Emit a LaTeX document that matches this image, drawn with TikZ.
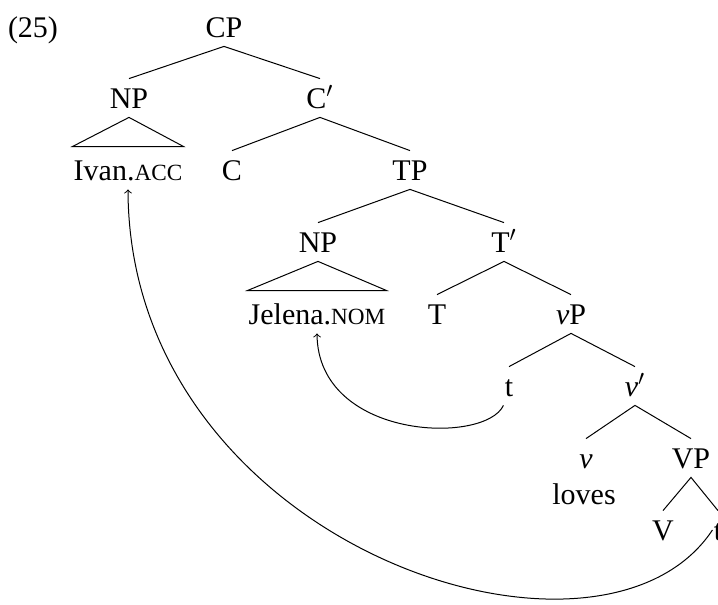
\documentclass[tikz,border=0pt]{standalone}
\usepackage{fontspec}
\setmainfont{Liberation Serif}
\newcommand\mysc[1]{{\fontsize{11.6}{12}\selectfont #1}}
\begin{document}
\begin{tikzpicture}[x=0.5pt,y=-0.5pt,
  lab/.style={font=\fontsize{15}{18}\selectfont, text height=10pt, text depth=0pt, inner ysep=4.5pt, inner xsep=0.5pt},
  br/.style={line width=0.5pt},
  mv/.style={line width=0.5pt,->}]
\useasboundingbox (0,0) rectangle (718,605);
\node[lab] (ex) at (33,27) {(25)};
\node[lab] (CP) at (224,27) {CP};
\node[lab] (NP1) at (129,98) {NP};
\node[lab] (Cb) at (320,98) {C$'$};
\node[lab] (Ivan) at (128,170) {Ivan.\mysc{ACC}};
\node[lab] (C) at (232,170) {C};
\node[lab] (TP) at (410,170) {TP};
\node[lab] (NP2) at (318,242) {NP};
\node[lab] (Tb) at (504,242) {T$'$};
\node[lab] (Jel) at (317,314) {Jelena.\mysc{NOM}};
\node[lab] (T) at (437,314) {T};
\node[lab] (vP) at (571,314) {\textit{v}P};
\node[lab] (t1) at (509,386) {t};
\node[lab] (vb) at (635,386) {\textit{v}$'$};
\node[lab] (v) at (586,458) {\textit{v}};
\node[lab] (loves) at (584,494) {loves};
\node[lab] (VP) at (691,458) {VP};
\node[lab] (V) at (663,530) {V};
\node[lab] (t2) at (718,530) {t};

\draw[br] (NP1.north) -- (CP.south) -- (Cb.north);
\draw[br] (C.north) -- (Cb.south) -- (TP.north);
\draw[br] (NP2.north) -- (TP.south) -- (Tb.north);
\draw[br] (T.north) -- (Tb.south) -- (vP.north);
\draw[br] (t1.north) -- (vP.south) -- (vb.north);
\draw[br] (v.north) -- (vb.south) -- (VP.north);
\draw[br] (V.north) -- (VP.south) -- (t2.north);
\draw[br] (NP1.south) -- ([yshift=2pt]Ivan.north west) -- ([yshift=2pt]Ivan.north east) -- cycle;
\draw[br] (NP2.south) -- ([yshift=2pt]Jel.north west) -- ([yshift=2pt]Jel.north east) -- cycle;

\draw[mv] (t1.south west) .. controls (485,445) and (318,440) .. (Jel.south);
\draw[mv] (t2.west) .. controls (600,700) and (129,545) .. (Ivan.south);
\end{tikzpicture}
\end{document}
